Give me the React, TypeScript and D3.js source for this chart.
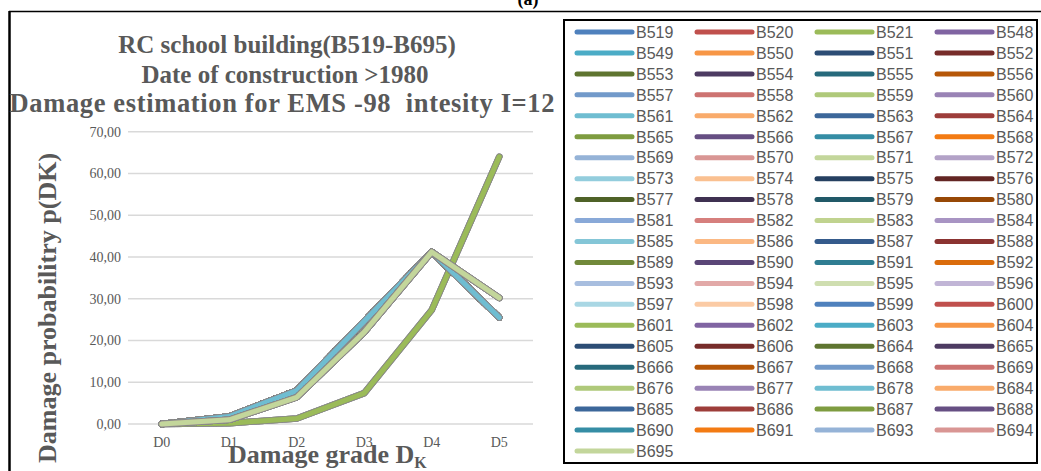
import React from "react";
import * as d3 from "d3";

const categories = ["D0", "D1", "D2", "D3", "D4", "D5"];
const yTicks = [0, 10, 20, 30, 40, 50, 60, 70];

const buildings = [
  "B519","B520","B521","B548","B549","B550","B551","B552","B553","B554","B555","B556",
  "B557","B558","B559","B560","B561","B562","B563","B564","B565","B566","B567","B568",
  "B569","B570","B571","B572","B573","B574","B575","B576","B577","B578","B579","B580",
  "B581","B582","B583","B584","B585","B586","B587","B588","B589","B590","B591","B592",
  "B593","B594","B595","B596","B597","B598","B599","B600","B601","B602","B603","B604",
  "B605","B606","B664","B665","B666","B667","B668","B669","B676","B677","B678","B684",
  "B685","B686","B687","B688","B690","B691","B693","B694","B695",
];

// damage distribution profiles (percent)
const profileA = [0, 0.2, 1.3, 7.4, 27.3, 64.0];
const profileB = [0, 1.8, 8.0, 24.6, 41.2, 25.5];
const profileC = [0, 1.0, 6.4, 22.0, 41.2, 30.2];

const groupA = ["B521", "B553", "B565", "B589", "B601"];
const groupC = [
  "B559","B571","B583","B595","B676","B684","B685","B686","B687","B688",
  "B690","B691","B693","B694","B695",
];

const palette = [
  "#4F81BD","#C0504D","#9BBB59","#8064A2","#4BACC6","#F79646",
  "#2C4D75","#772C2A","#5F7530","#4D3B62","#276A7C","#B65708",
  "#729ACA","#CD7371","#AFC97A","#9983B5","#6FBDD1","#F9AB6B",
  "#3C679A","#9D3D3A","#7E9C40","#664F83","#358DA5","#F37B13",
  "#95B3D7","#D99694","#C3D69B","#B3A2C7","#93CDDD","#FAC090",
  "#254061","#632523","#4F6228","#3F3151","#215968","#974806",
  "#89A9D8","#D67F7D","#C0D38F","#A894C3","#84C6D7","#FBB883",
  "#355B8C","#8B3331","#71893A","#5A4677","#2F7D92","#DA6C0C",
  "#A8BEDF","#E2A9A8","#CFDEB0","#C1B5D6","#A9D7E4","#FBCBA5",
];

const titleLines = [
  "RC school building(B519-B695)",
  "Date of construction >1980",
  "Damage estimation for EMS -98  intesity I=12",
];

const W = 1041;
const H = 471;

export default function App() {
  const x = d3.scaleBand().domain(categories).range([128, 533]);
  const y = d3.scaleLinear().domain([0, 70]).range([424, 131.7]);
  const line = d3
    .line<number>()
    .x((_, i) => (x(categories[i]) as number) + x.bandwidth() / 2)
    .y((v) => y(v));

  const seriesValues = (b: string) =>
    groupA.includes(b) ? profileA : groupC.includes(b) ? profileC : profileB;

  const legX0 = 577;
  const legColW = 120;
  const legY0 = 32;
  const legRowH = 20.95;

  const serif = "'Liberation Serif', 'Times New Roman', serif";
  const sans = "'Liberation Sans', Arial, sans-serif";

  return (
    <svg
      width={W}
      height={H}
      style={{ position: "absolute", left: 0, top: 0, background: "#fff" }}
    >
      {/* caption (a) cut at top */}
      <text x={528} y={5} textAnchor="middle" fontFamily={serif} fontWeight="bold" fontSize={18} fill="#000">
        (a)
      </text>
      {/* outer frame */}
      <line x1={9} y1={11.5} x2={W} y2={11.5} stroke="#000" strokeWidth={1.5} />
      <line x1={9.5} y1={11} x2={9.5} y2={H} stroke="#000" strokeWidth={2.5} />

      {/* title */}
      <g fontFamily={serif} fontWeight="bold" fill="#595959" fontSize={25} textAnchor="middle">
        <text x={287} y={53}>{titleLines[0]}</text>
        <text x={285} y={83}>{titleLines[1]}</text>
        <text x={282} y={112} fontSize={26.5} xmlSpace="preserve" style={{ whiteSpace: "pre" }} textLength={545} lengthAdjust="spacing">
          {titleLines[2]}
        </text>
      </g>

      {/* gridlines */}
      {yTicks.map((t) => (
        <line key={t} x1={128} x2={533} y1={y(t)} y2={y(t)} stroke="#D9D9D9" strokeWidth={1.5} />
      ))}
      {/* y tick labels */}
      {yTicks.map((t) => (
        <text key={t} x={121} y={y(t)} dy="0.35em" textAnchor="end" fontFamily={serif} fontSize={14} fill="#595959">
          {t.toFixed(2).replace(".", ",")}
        </text>
      ))}
      {/* x tick labels */}
      {categories.map((c) => (
        <text key={c} x={(x(c) as number) + x.bandwidth() / 2} y={447} textAnchor="middle" fontFamily={serif} fontSize={14} fill="#595959">
          {c}
        </text>
      ))}

      {/* series */}
      {buildings.map((b, i) => {
        const d = line(seriesValues(b)) as string;
        return (
          <g key={b}>
            <path d={d} fill="none" stroke="#8a8a8a" strokeOpacity={0.7} strokeWidth={6.5} strokeLinejoin="round" strokeLinecap="round" />
            <path d={d} fill="none" stroke={palette[i % palette.length]} strokeWidth={5} strokeLinejoin="round" strokeLinecap="round" />
          </g>
        );
      })}

      {/* axis titles */}
      <text transform="translate(56,308) rotate(-90)" textAnchor="middle" fontFamily={serif} fontWeight="bold" fontSize={26} fill="#595959">
        Damage probabilitry p(DK)
      </text>
      <text x={228} y={463} fontFamily={serif} fontWeight="bold" fontSize={26} fill="#595959">
        Damage grade D<tspan fontSize={16} dy={5}>K</tspan>
      </text>

      {/* legend */}
      <rect x={564} y={20} width={473} height={443} fill="#fff" stroke="#000" strokeWidth={2} />
      {buildings.map((b, i) => {
        const col = i % 4;
        const row = Math.floor(i / 4);
        const lx = legX0 + col * legColW;
        const ly = legY0 + row * legRowH;
        return (
          <g key={b}>
            <line x1={lx} x2={lx + 55} y1={ly} y2={ly} stroke={palette[i % palette.length]} strokeWidth={5} strokeLinecap="round" />
            <text x={lx + 59} y={ly} dy="0.36em" fontFamily={sans} fontSize={16} fill="#595959">
              {b}
            </text>
          </g>
        );
      })}
    </svg>
  );
}
